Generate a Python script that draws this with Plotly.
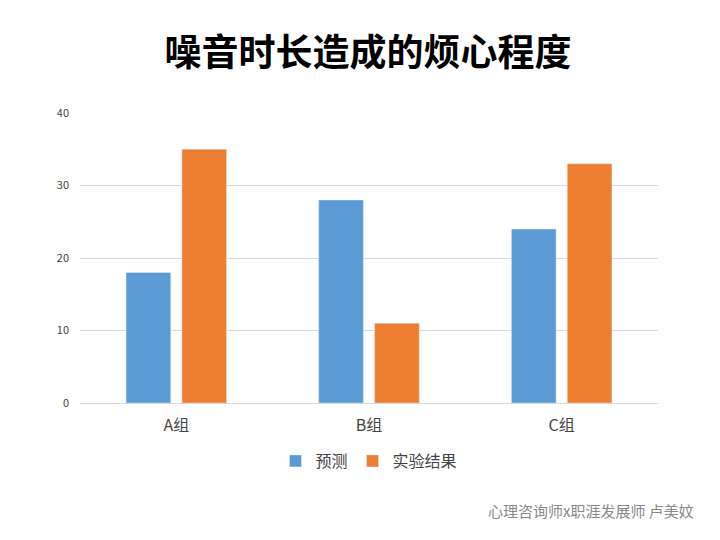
import plotly.graph_objects as go

categories = ["A组", "B组", "C组"]
predicted = [18, 28, 24]
actual = [35, 11, 33]

fig = go.Figure()
fig.add_trace(go.Bar(x=categories, y=predicted, name="预测", marker_color="#5b9bd5"))
fig.add_trace(go.Bar(x=categories, y=actual, name="实验结果", marker_color="#ed7d31"))

fig.update_layout(
    width=720, height=540,
    paper_bgcolor="white", plot_bgcolor="white",
    font=dict(family="Noto Sans CJK SC", color="#333"),
    title=dict(text="<b>噪音时长造成的烦心程度</b>", x=0.5, y=0.94, xanchor="center",
               font=dict(size=37, color="black")),
    margin=dict(l=72, r=70, t=105, b=145),
    bargap=0.42, bargroupgap=0.2,
    legend=dict(orientation="h", x=0.5, xanchor="center", y=-0.2, yanchor="middle",
                font=dict(size=16, color="#444")),
    annotations=[dict(text="心理咨询师x职涯发展师 卢美妏", xref="paper", yref="paper",
                      x=1.065, y=-0.37, xanchor="right", yanchor="middle", showarrow=False,
                      font=dict(size=15, color="#888"))],
)
fig.update_yaxes(range=[0, 40], dtick=10, gridcolor="#d9d9d9", zeroline=False,
                 tickfont=dict(size=11, color="#444"), ticks="", ticklabelstandoff=10)
fig.update_xaxes(showline=True, linecolor="#d9d9d9", tickfont=dict(size=16, color="#444"),
                 ticklabelstandoff=8)

fig.write_html("out.html")
